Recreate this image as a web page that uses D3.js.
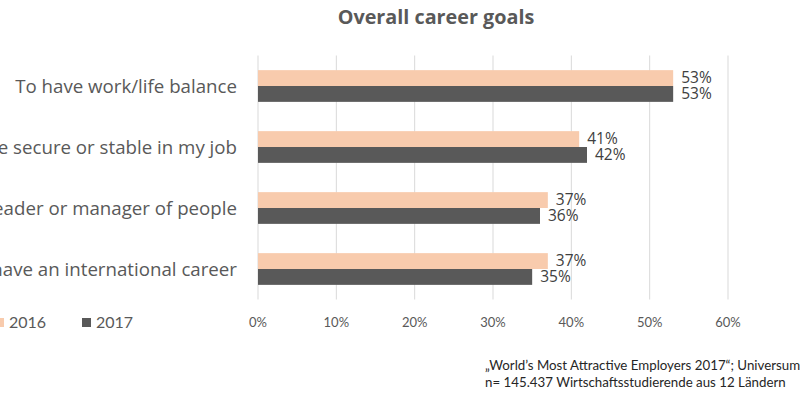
<!DOCTYPE html>
<html><head><meta charset="utf-8">
<script src="https://cdn.jsdelivr.net/npm/d3@7"></script>
<style>body{margin:0;background:#fff}svg{display:block}</style>
</head><body><svg width="800" height="400"></svg>
<script>
const categories = ["To have work/life balance","To be secure or stable in my job","To be a leader or manager of people","To have an international career"];
const series = ["2016","2017"];
const values2016 = [53,41,37,37];
const values2017 = [53,42,36,35];
const xTicks = [0,10,20,30,40,50,60];
const colors = ["#F8CBAD","#595959"];
const title = "Overall career goals";
const footer = ["\u201EWorld\u2019s Most Attractive Employers 2017\u201C; Universum","n= 145.437 Wirtschaftsstudierende aus 12 L\u00e4ndern"];

const svg = d3.select("svg");
const font = "Lato, 'Open Sans', sans-serif";
const font2 = "'Open Sans', sans-serif";
const x = d3.scaleLinear().domain([0,60]).range([258,728]);
const y = d3.scaleBand().domain(categories).range([55.5,299.5]).paddingInner(0.48).paddingOuter(0.24);
const sub = d3.scaleBand().domain(series).range([0,y.bandwidth()]);

// gridlines
svg.append("g").selectAll("line").data(xTicks).join("line")
  .attr("x1",d=>x(d)).attr("x2",d=>x(d)).attr("y1",55.5).attr("y2",299.5)
  .attr("stroke","#d9d9d9").attr("stroke-width",1);

const vals = [values2016, values2017];
series.forEach((s,si)=>{
  const g = svg.append("g");
  g.selectAll("rect").data(categories).join("rect")
    .attr("x",x(0)).attr("y",d=>y(d)+sub(s)).attr("height",sub.bandwidth())
    .attr("width",(d,i)=>x(vals[si][i])-x(0)).attr("fill",colors[si]);
  g.selectAll("text").data(categories).join("text")
    .attr("x",(d,i)=>x(vals[si][i])+8).attr("y",d=>y(d)+sub(s)+sub.bandwidth()/2)
    .attr("dy","0.35em").attr("font-family",font2).attr("font-size",15.5).attr("fill","#404040")
    .text((d,i)=>vals[si][i]+"%");
});

// category labels
svg.append("g").selectAll("text").data(categories).join("text")
  .attr("x",237).attr("y",d=>y(d)+y.bandwidth()/2).attr("dy","0.35em")
  .attr("text-anchor","end").attr("font-family",font2).attr("font-size",18.7).attr("fill","#595959")
  .text(d=>d);

// x axis labels
svg.append("g").selectAll("text").data(xTicks).join("text")
  .attr("x",d=>x(d)).attr("y",322).attr("dy","0.35em").attr("text-anchor","middle")
  .attr("font-family",font).attr("font-size",13).attr("fill","#595959")
  .text(d=>d+"%");

// title
svg.append("text").attr("x",436).attr("y",17).attr("dy","0.35em").attr("text-anchor","middle")
  .attr("font-family",font2).attr("font-weight","bold").attr("font-size",19.8).attr("fill","#595959").text(title);

// legend
const lx = [-5,82];
series.forEach((s,i)=>{
  svg.append("rect").attr("x",lx[i]).attr("y",318).attr("width",9).attr("height",9).attr("fill",colors[i]);
  svg.append("text").attr("x",lx[i]+14).attr("y",322.5).attr("dy","0.35em")
    .attr("font-family",font).attr("font-size",16).attr("fill","#595959").text(s);
});

// footer
footer.forEach((t,i)=>{
  svg.append("text").attr("x",485).attr("y",365+i*17).attr("dy","0.35em")
    .attr("font-family",font).attr("font-size",13.3).attr("fill","#262626").text(t);
});
</script></body></html>
